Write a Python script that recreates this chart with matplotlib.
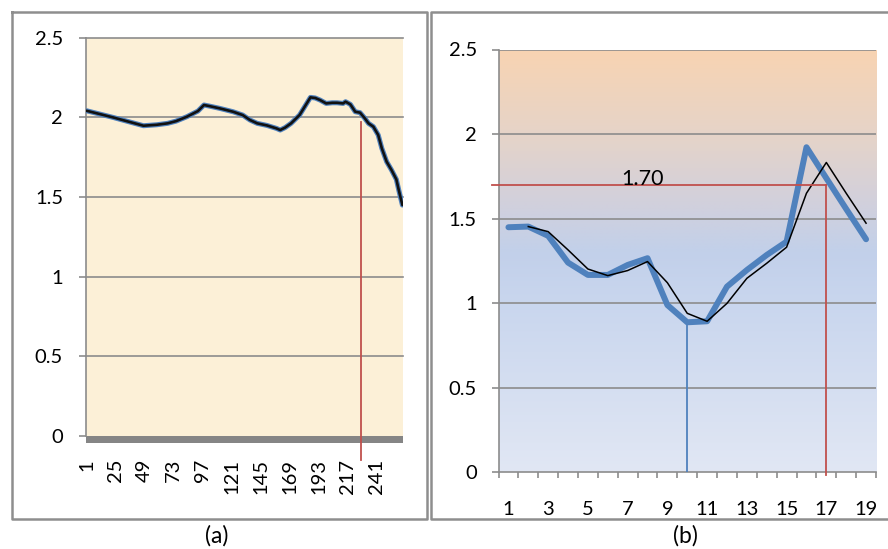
import numpy as np
import matplotlib
matplotlib.use("Agg")
import matplotlib.pyplot as plt
import matplotlib.patheffects as pe
from matplotlib.lines import Line2D
from matplotlib.patches import Rectangle
from matplotlib.colors import to_rgb

plt.rcParams['font.family'] = ['Lato', 'DejaVu Sans']

# ---- panel (a): long smoothed series over 262 samples ----
a_count = 262
a_idx = [1, 12, 23, 34, 48, 59, 68, 75, 84, 93, 98, 102, 111, 122, 130, 136,
         142, 150, 158, 161, 165, 170, 177, 186, 190, 194, 199, 204, 208, 213,
         215, 219, 223, 227, 231, 234, 238, 242, 245, 249, 253, 257, 259, 261, 262]
a_val = [2.042, 2.021, 2.000, 1.977, 1.948, 1.954, 1.963, 1.977, 2.005, 2.040,
         2.078, 2.072, 2.057, 2.036, 2.015, 1.984, 1.963, 1.950, 1.931, 1.921,
         1.936, 1.963, 2.015, 2.126, 2.122, 2.109, 2.088, 2.092, 2.092, 2.088,
         2.099, 2.082, 2.036, 2.030, 1.994, 1.963, 1.942, 1.890, 1.806, 1.722,
         1.670, 1.611, 1.544, 1.481, 1.450]
a_ticks = [1, 25, 49, 73, 97, 121, 145, 169, 193, 217, 241]
a_marker_idx = 228
a_marker_top = 1.97

# ---- panel (b): 19 samples and their moving average ----
b_idx = list(range(1, 20))
b_val = [1.449, 1.453, 1.398, 1.240, 1.167, 1.167, 1.226, 1.266, 0.989, 0.887,
         0.893, 1.098, 1.196, 1.285, 1.364, 1.922, 1.739, 1.557, 1.378]
b_avg_idx = list(range(2, 20))
b_avg = [1.453, 1.423, 1.315, 1.202, 1.163, 1.193, 1.246, 1.121, 0.940, 0.893,
         0.999, 1.147, 1.236, 1.331, 1.650, 1.832, 1.650, 1.473]
b_ticks = [1, 3, 5, 7, 9, 11, 13, 15, 17, 19]
b_level = 1.70
b_level_label = "1.70"
b_level_idx = 17
b_min_idx = 10

y_ticks = [0, 0.5, 1, 1.5, 2, 2.5]
y_labels = ["0", "0.5", "1", "1.5", "2", "2.5"]

W, H = 888, 549
DPI = 100
fig = plt.figure(figsize=(W / DPI, H / DPI), dpi=DPI)
fig.patch.set_facecolor("white")


def px_rect(x0, y0, x1, y1):
    return [x0 / W, 1 - y1 / H, (x1 - x0) / W, (y1 - y0) / H]


def frame_line(xs, ys):
    ln = Line2D([x / W for x in xs], [1 - y / H for y in ys], color="#8e8e8e",
                lw=1.8, transform=fig.transFigure)
    fig.add_artist(ln)


GRID = "#8c8c8c"
BLUE = "#4f81bd"
RED = "#c0504d"
FS = 14.5

# outer frames of the two panels
frame_line([12.3, 427.3, 427.3, 12.3, 12.3], [12.3, 12.3, 519.3, 519.3, 12.3])
frame_line([889, 430.8, 430.8, 889], [12.3, 12.3, 519.3, 519.3])

# ---------------- panel (a) ----------------
ax1 = fig.add_axes(px_rect(86, 37.8, 403, 436))
ax1.set_facecolor("#fcf0d7")
ax1.set_xlim(0.5, a_count + 0.5)
ax1.set_ylim(0, 2.5)
for v in y_ticks[1:]:
    ax1.axhline(v, color=GRID, lw=1.2, zorder=1, clip_on=False)
ax1.plot(a_idx, a_val, color="#111111", lw=1.9, zorder=4,
         solid_joinstyle="round", solid_capstyle="round",
         path_effects=[pe.Stroke(linewidth=3.6, foreground=BLUE), pe.Normal()])
ax1.plot([a_marker_idx, a_marker_idx], [a_marker_top, -0.15], color=RED,
         lw=1.3, zorder=3, clip_on=False)
# thick base bar under the zero line
bar_h = 7 / (436 - 37.8)
ax1.add_patch(Rectangle((0, -bar_h), 1, bar_h, transform=ax1.transAxes,
                        color="#858585", clip_on=False, zorder=2, lw=0))
for s in ["top", "right", "bottom"]:
    ax1.spines[s].set_visible(False)
ax1.spines["left"].set_color(GRID)
ax1.spines["left"].set_linewidth(1.2)
ax1.set_yticks(y_ticks)
ax1.set_yticklabels(y_labels)
ax1.set_xticks(a_ticks)
ax1.set_xticklabels([str(t) for t in a_ticks], rotation=90, va="top", ha="center")
ax1.tick_params(axis="y", length=5, width=1.2, color=GRID, pad=11.5,
                labelsize=FS)
ax1.tick_params(axis="x", length=0, pad=16.5, labelsize=FS)

# ---------------- panel (b) ----------------
ax2 = fig.add_axes(px_rect(498.5, 49.5, 876, 472.3))
ax2.set_xlim(0.5, 19.5)
ax2.set_ylim(0, 2.5)

# vertical background gradient
stops_v = [0.0, 1.0, 1.3, 1.6, 2.0, 2.5]
stops_c = ["#e1e7f4", "#c9d6ee", "#c2d0ea", "#d2d0dc", "#e6d4c8", "#f8d3b2"]
gy = np.linspace(0, 2.5, 300)
rgb = np.array([to_rgb(c) for c in stops_c])
grad = np.stack([np.interp(gy, stops_v, rgb[:, k]) for k in range(3)], axis=1)
ax2.imshow(grad[:, None, :], extent=[0.5, 19.5, 0, 2.5], origin="lower",
           aspect="auto", zorder=0, interpolation="bilinear")

for v in y_ticks[1:]:
    ax2.axhline(v, color=GRID, lw=1.2, zorder=1)
ax2.plot(b_idx, b_val, color=BLUE, lw=4.3, zorder=3,
         solid_joinstyle="round", solid_capstyle="round")
ax2.plot(b_avg_idx, b_avg, color="black", lw=1.1, zorder=4)
# reference lines
ax2.plot([0.15, b_level_idx], [b_level, b_level], color=RED, lw=1.3,
         zorder=5, clip_on=False)
ax2.plot([b_level_idx, b_level_idx], [b_level, -0.015], color=RED, lw=1.3,
         zorder=5, clip_on=False)
ax2.plot([b_min_idx, b_min_idx], [b_val[b_min_idx - 1], 0], color=BLUE,
         lw=1.3, zorder=5)
ax2.text(7.75, b_level, b_level_label, ha="center", va="baseline",
         fontsize=15.5, zorder=6)

for s in ["top", "right"]:
    ax2.spines[s].set_visible(False)
for s in ["left", "bottom"]:
    ax2.spines[s].set_color(GRID)
    ax2.spines[s].set_linewidth(1.2)
ax2.set_yticks(y_ticks)
ax2.set_yticklabels(y_labels)
ax2.set_xticks(b_ticks)
ax2.set_xticklabels([str(t) for t in b_ticks])
ax2.set_xticks(np.arange(0.5, 20, 1.0), minor=True)
ax2.tick_params(axis="y", length=4.8, width=1.2, color=GRID, pad=10.8,
                labelsize=FS)
ax2.tick_params(axis="x", which="major", length=0, pad=21, labelsize=FS)
ax2.tick_params(axis="x", which="minor", length=4.3, width=1.2, color=GRID)

# panel captions
fig.text(216.7 / W, 1 - 536 / H, "(a)", ha="center", va="center", fontsize=16.5)
fig.text(685.7 / W, 1 - 536 / H, "(b)", ha="center", va="center", fontsize=16.5)

fig.savefig("out.png", dpi=DPI, facecolor="white")
